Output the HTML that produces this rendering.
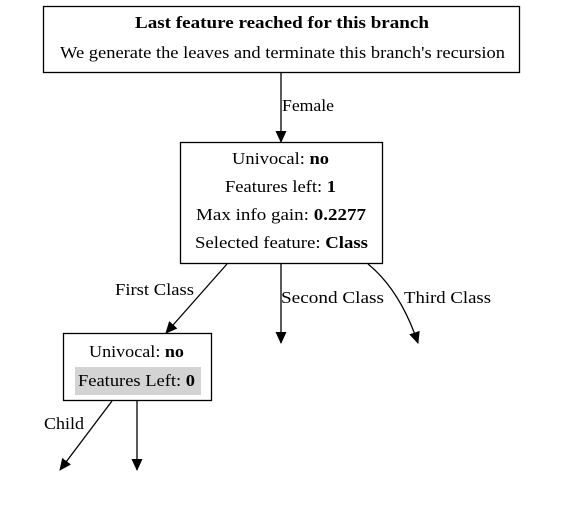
<!DOCTYPE html>
<html><head><style>body{margin:0;background:#fff}svg{display:block}text{font-family:"Liberation Serif",serif;font-size:17px;fill:#000}</style></head><body>
<svg width="563" height="524" viewBox="0 0 563 524" xmlns="http://www.w3.org/2000/svg">
<defs><marker id="a" markerWidth="12" markerHeight="12" refX="11" refY="5.5" orient="auto" markerUnits="userSpaceOnUse"><path d="M0,0 L12,5.5 L0,11 z" fill="#000"/></marker></defs>
<g stroke="#000" stroke-width="1.3" fill="none">
<rect x="43.5" y="6.5" width="476" height="66"/>
<rect x="180.5" y="142.5" width="202" height="121"/>
<rect x="63.5" y="333.5" width="148" height="67"/>
<path d="M281,73 L281,142" marker-end="url(#a)"/>
<path d="M227,264 L166,333" marker-end="url(#a)"/>
<path d="M281,264 L281,343" marker-end="url(#a)"/>
<path d="M368,264 Q400,290 418,343" marker-end="url(#a)"/>
<path d="M112,401 L60,470" marker-end="url(#a)"/>
<path d="M137,401 L137,470" marker-end="url(#a)"/>
</g>
<rect x="75" y="367" width="126" height="28" fill="#d3d3d3"/>
<text x="135" y="28" textLength="294" lengthAdjust="spacingAndGlyphs" font-weight="bold">Last feature reached for this branch</text>
<text x="60" y="58" textLength="445" lengthAdjust="spacingAndGlyphs">We generate the leaves and terminate this branch's recursion</text>
<text x="282" y="111" textLength="52" lengthAdjust="spacingAndGlyphs">Female</text>
<text x="232" y="164" textLength="97" lengthAdjust="spacingAndGlyphs">Univocal: <tspan font-weight="bold">no</tspan></text>
<text x="225" y="192" textLength="111" lengthAdjust="spacingAndGlyphs">Features left: <tspan font-weight="bold">1</tspan></text>
<text x="196" y="220" textLength="170" lengthAdjust="spacingAndGlyphs">Max info gain: <tspan font-weight="bold">0.2277</tspan></text>
<text x="195" y="248" textLength="173" lengthAdjust="spacingAndGlyphs">Selected feature: <tspan font-weight="bold">Class</tspan></text>
<text x="115" y="295" textLength="79" lengthAdjust="spacingAndGlyphs">First Class</text>
<text x="281" y="303" textLength="103" lengthAdjust="spacingAndGlyphs">Second Class</text>
<text x="404" y="303" textLength="87" lengthAdjust="spacingAndGlyphs">Third Class</text>
<text x="89" y="357" textLength="95" lengthAdjust="spacingAndGlyphs">Univocal: <tspan font-weight="bold">no</tspan></text>
<text x="78" y="386" textLength="117" lengthAdjust="spacingAndGlyphs">Features Left: <tspan font-weight="bold">0</tspan></text>
<text x="44" y="429" textLength="40" lengthAdjust="spacingAndGlyphs">Child</text>
</svg>
</body></html>
